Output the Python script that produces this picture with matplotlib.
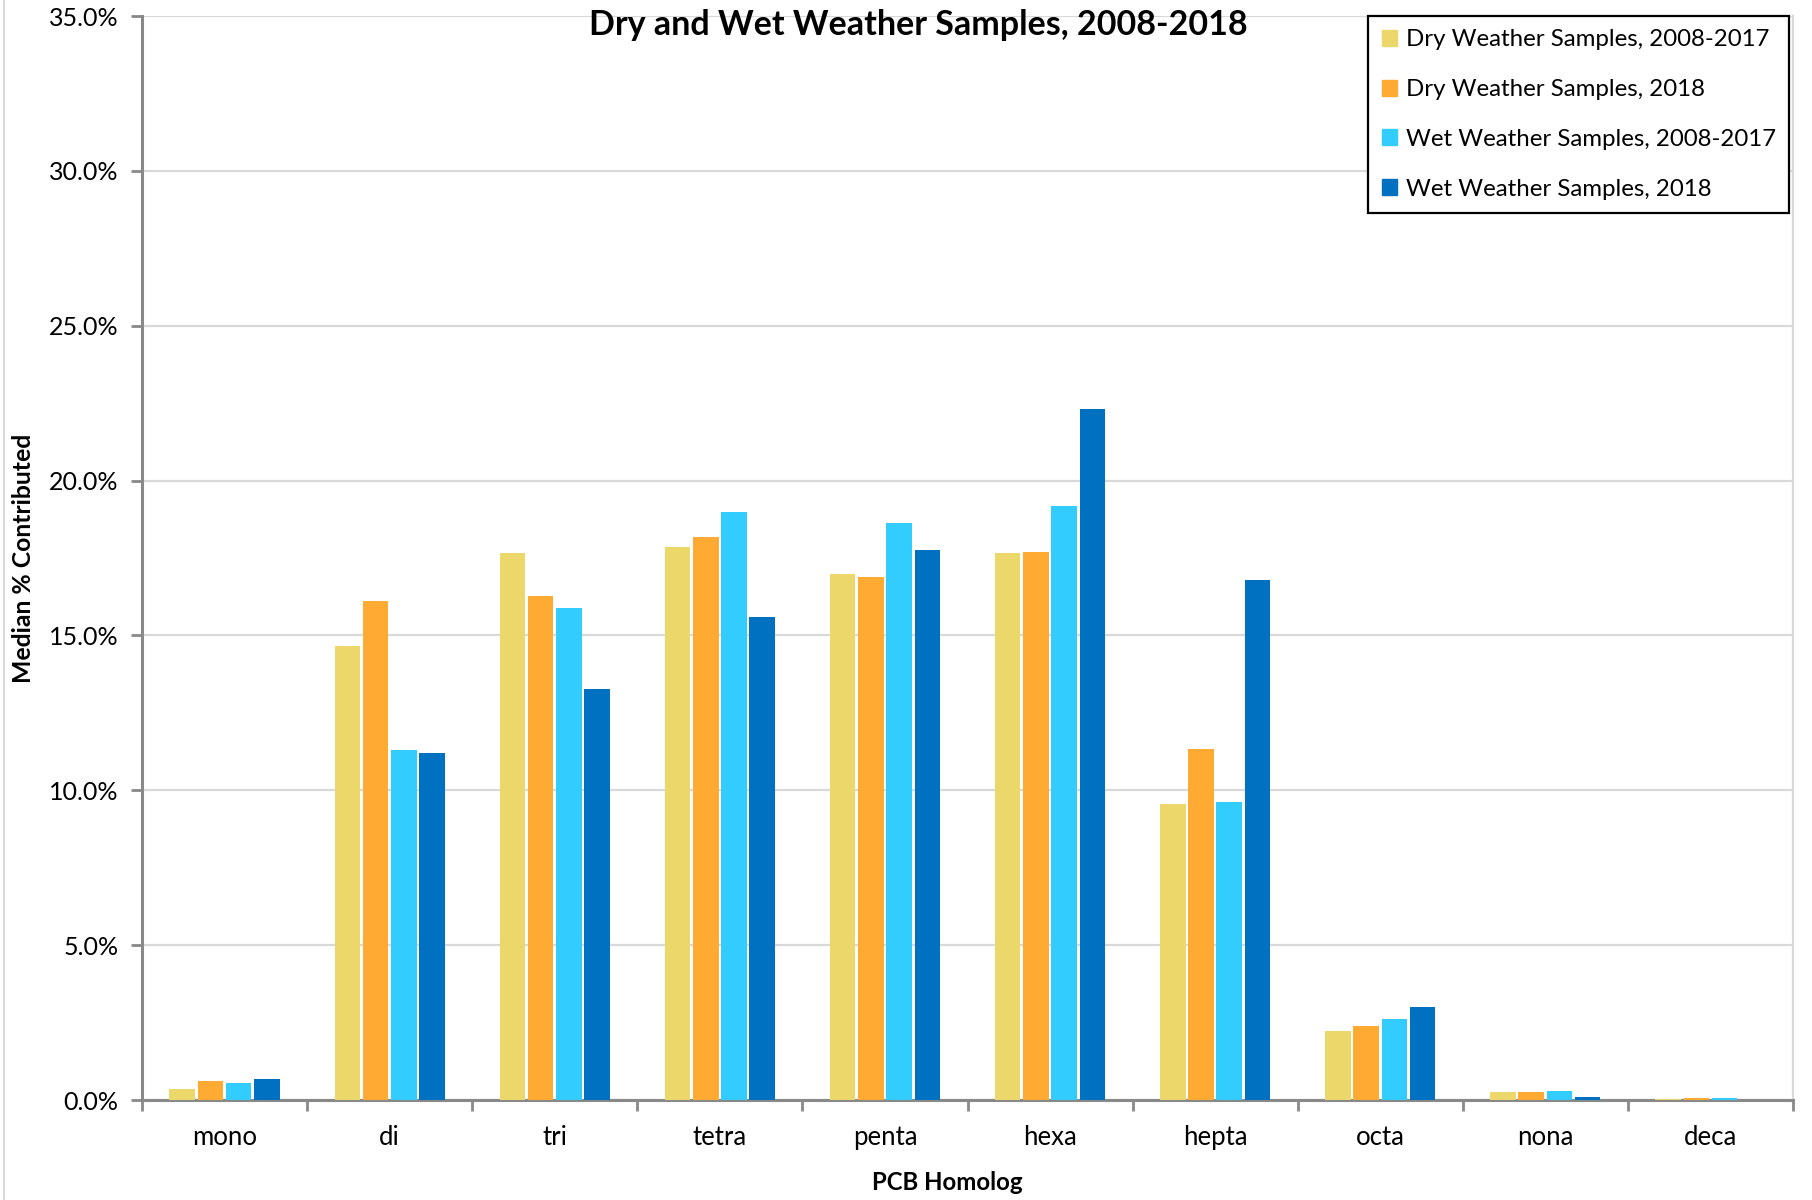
import matplotlib.pyplot as plt
from matplotlib.lines import Line2D
from matplotlib.ticker import FuncFormatter
import numpy as np

plt.rcParams['font.family'] = ['Lato', 'DejaVu Sans']

# data (median % contributed)
homologs = ['mono', 'di', 'tri', 'tetra', 'penta', 'hexa', 'hepta', 'octa', 'nona', 'deca']
dry_0817 = [0.37, 14.66, 17.65, 17.87, 16.98, 17.65, 9.55, 2.24, 0.26, 0.04]
dry_2018 = [0.60, 16.12, 16.27, 18.17, 16.90, 17.69, 11.34, 2.39, 0.27, 0.07]
wet_0817 = [0.56, 11.31, 15.90, 18.99, 18.62, 19.18, 9.63, 2.61, 0.28, 0.05]
wet_2018 = [0.67, 11.19, 13.28, 15.60, 17.76, 22.31, 16.79, 2.99, 0.11, 0.01]

series_names = ['Dry Weather Samples, 2008-2017', 'Dry Weather Samples, 2018',
                'Wet Weather Samples, 2008-2017', 'Wet Weather Samples, 2018']
colors = ['#EBD76A', '#FFAA33', '#33CCFF', '#0070C0']

fig = plt.figure(figsize=(18.12, 12), dpi=100)
W, H = 1812, 1200
ax = fig.add_axes([142 / W, 1 - 1100 / H, (1793 - 142) / W, (1100 - 16) / H])

x = np.arange(len(homologs))
step = 0.171
bw = 0.155
all_series = [dry_0817, dry_2018, wet_0817, wet_2018]
for i, (vals, c) in enumerate(zip(all_series, colors)):
    ax.bar(x + (i - 1.5) * step, vals, width=bw, color=c, zorder=3, label=series_names[i])

ax.set_xlim(-0.5, len(homologs) - 0.5)
ax.set_ylim(0, 35)
ax.set_yticks(np.arange(0, 36, 5))
ax.yaxis.set_major_formatter(FuncFormatter(lambda v, p: f'{v:.1f}%'))
ax.grid(axis='y', color='#D9D9D9', linewidth=1.6, zorder=0)

ax.set_xticks(x)
ax.set_xticklabels(homologs)
ax.set_xticks(np.arange(-0.5, len(homologs)), minor=True)
ax.tick_params(axis='x', which='major', length=0, pad=18, labelsize=18.5)
ax.tick_params(axis='x', which='minor', length=8, width=2, color='#898989', direction='out')
ax.tick_params(axis='y', length=8, width=2, color='#898989', labelsize=18, pad=9)

for s in ['left', 'bottom']:
    ax.spines[s].set_color('#898989')
    ax.spines[s].set_linewidth(2.2)
ax.spines['top'].set_visible(False)
ax.spines['right'].set_color('#D9D9D9')
ax.spines['right'].set_linewidth(1.6)

fig.text(918 / W, 1 - 25 / H, 'Dry and Wet Weather Samples, 2008-2018',
         ha='center', va='center', fontsize=24.5, fontweight='bold')
fig.text(24 / W, 1 - 558 / H, 'Median % Contributed', rotation=90,
         ha='center', va='center', fontsize=17.8, fontweight='bold')
fig.text(947 / W, 1 - 1183 / H, 'PCB Homolog', ha='center', va='center',
         fontsize=17.3, fontweight='bold')

# thin chart-area border on the left
fig.add_artist(Line2D([3.5 / W, 3.5 / W], [0, 1], color='#D9D9D9', linewidth=1.5))

handles = [plt.Rectangle((0, 0), 1, 1, color=c) for c in colors]
leg = ax.legend(handles, series_names, loc='upper right',
                bbox_to_anchor=(1789 / W, 1 - 16 / H), bbox_transform=fig.transFigure,
                borderaxespad=0, fontsize=17.3, frameon=True, fancybox=False, framealpha=1,
                handlelength=0.65, handleheight=0.65, handletextpad=0.35,
                labelspacing=1.2, borderpad=0.55)
leg.get_frame().set_edgecolor('black')
leg.get_frame().set_linewidth(1.6)

fig.savefig('out.png', dpi=100)
